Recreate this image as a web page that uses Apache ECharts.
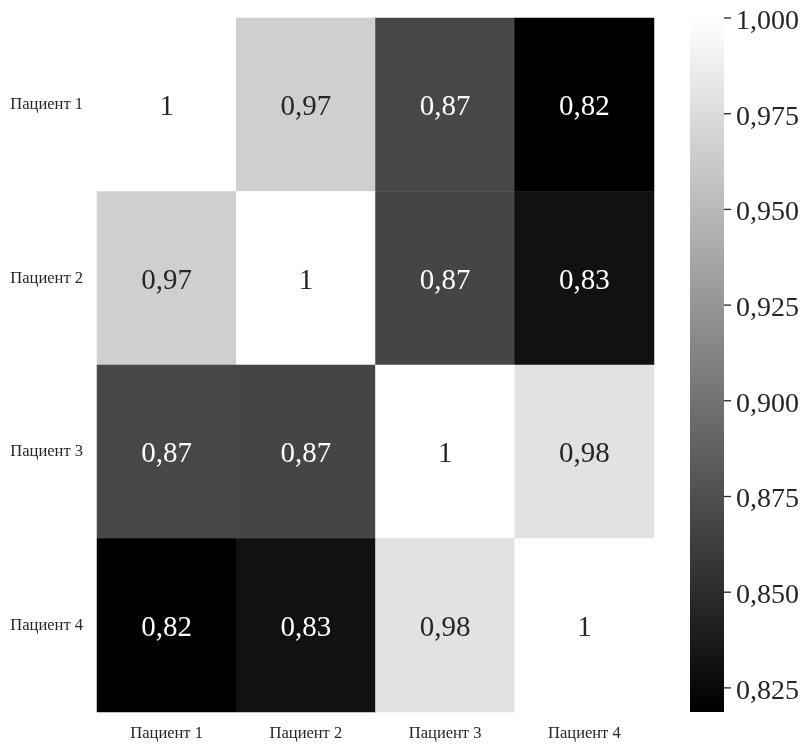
<!DOCTYPE html>
<html>
<head>
<meta charset="utf-8">
<script src="https://cdn.jsdelivr.net/npm/echarts@6/dist/echarts.min.js"></script>
<style>html,body{margin:0;padding:0;background:#fff}#c{width:809px;height:752px}</style>
</head>
<body>
<div id="c"></div>
<script>
const patients = ['Пациент 1', 'Пациент 2', 'Пациент 3', 'Пациент 4'];
const row1 = [1.0, 0.9659, 0.8690, 0.8187];
const row2 = [0.9659, 1.0, 0.8680, 0.8308];
const row3 = [0.8690, 0.8680, 1.0, 0.9794];
const row4 = [0.8187, 0.8308, 0.9794, 1.0];
const colorbarTicks = [0.825, 0.85, 0.875, 0.9, 0.925, 0.95, 0.975, 1.0];
const vMin = 0.8187, vMax = 1.0;

const rows = [row1, row2, row3, row4];
const data = [];
rows.forEach((r, i) => r.forEach((v, j) => {
  data.push({
    value: [j, i, v],
    label: { color: v > 0.93 ? '#262626' : '#ffffff' }
  });
}));
const fmt = v => String(Number(v.toPrecision(2))).replace('.', ',');
const font = '"Liberation Serif", "Times New Roman", serif';

const chart = echarts.init(document.getElementById('c'));
chart.setOption({
  animation: false,
  backgroundColor: '#fff',
  grid: [
    { left: 97, top: 18, width: 557, height: 694 },
    { left: 690, top: 18, width: 34, height: 694 }
  ],
  xAxis: [
    { type: 'category', data: patients, gridIndex: 0, position: 'bottom',
      axisLine: { show: false }, axisTick: { show: false }, splitLine: { show: false },
      axisLabel: { fontFamily: font, fontSize: 16.5, color: '#262626', margin: 13 } },
    { type: 'value', gridIndex: 1, show: false, min: 0, max: 1 }
  ],
  yAxis: [
    { type: 'category', data: patients, gridIndex: 0, inverse: true,
      axisLine: { show: false }, axisTick: { show: false }, splitLine: { show: false },
      axisLabel: { fontFamily: font, fontSize: 16.5, color: '#262626', margin: 14, padding: [3, 0, 0, 0] } },
    { type: 'value', gridIndex: 1, position: 'right', min: vMin, max: vMax,
      splitLine: { show: false }, axisLine: { show: false }, axisTick: { show: false },
      axisLabel: { customValues: colorbarTicks, margin: 12,
        formatter: v => '{t|' + v.toFixed(3).replace('.', ',') + '}',
        rich: { t: { fontFamily: font, fontSize: 28, color: '#262626', padding: [7, 0, 0, 0] } } } }
  ],
  visualMap: {
    type: 'continuous', min: vMin, max: vMax, seriesIndex: 0, show: false,
    inRange: { color: ['#000000', '#ffffff'] }
  },
  series: [{
    type: 'heatmap', xAxisIndex: 0, yAxisIndex: 0, data: data,
    label: { show: true, fontFamily: font, fontSize: 29, offset: [0, 3], formatter: p => fmt(p.value[2]) },
    itemStyle: { borderWidth: 0 },
    emphasis: { disabled: true }
  }, {
    type: 'custom', xAxisIndex: 1, yAxisIndex: 1, silent: true,
    data: [[0, 1, vMin, vMax]],
    renderItem: (params, api) => {
      const p0 = api.coord([api.value(0), api.value(2)]);
      const p1 = api.coord([api.value(1), api.value(3)]);
      const children = [{
        type: 'rect',
        shape: { x: p0[0], y: p1[1], width: p1[0] - p0[0], height: p0[1] - p1[1] },
        style: { fill: new echarts.graphic.LinearGradient(0, 0, 0, 1, [
          { offset: 0, color: '#ffffff' }, { offset: 1, color: '#000000' }]) }
      }];
      colorbarTicks.forEach(t => {
        const q = api.coord([api.value(1), t]);
        children.push({ type: 'line',
          shape: { x1: q[0], y1: q[1], x2: q[0] + 7, y2: q[1] },
          style: { stroke: '#262626', lineWidth: 1.3 } });
      });
      return { type: 'group', children: children };
    }
  }]
});
</script>
</body>
</html>
